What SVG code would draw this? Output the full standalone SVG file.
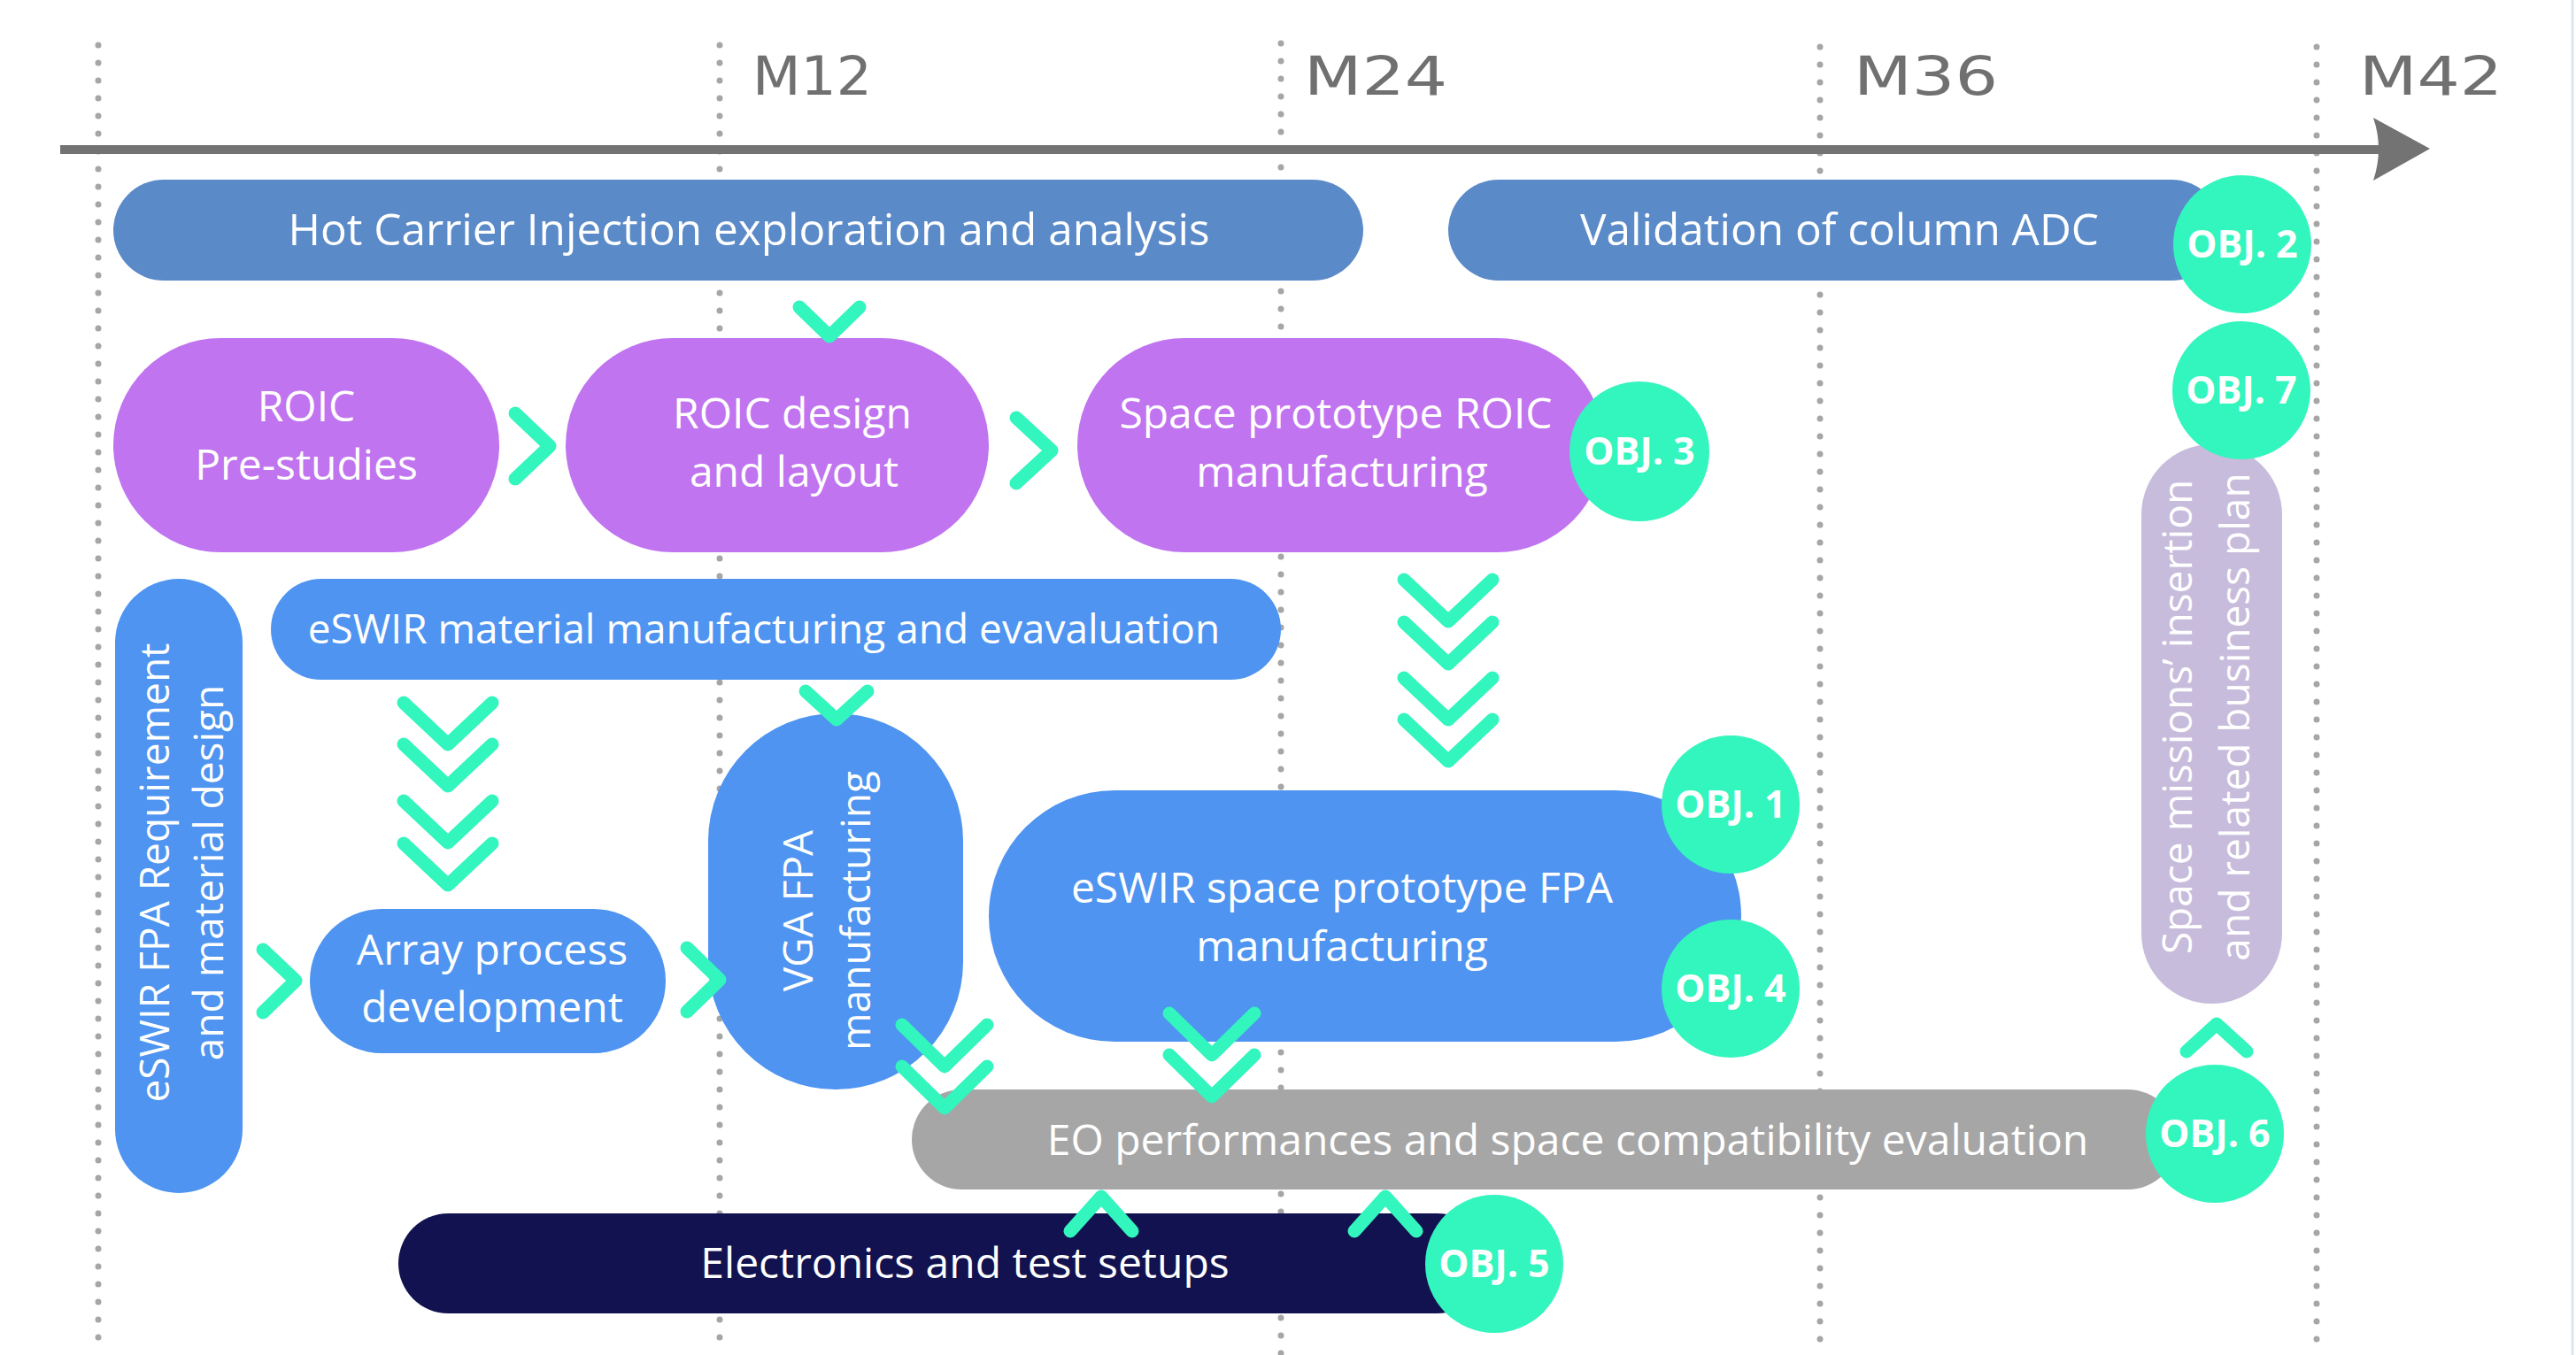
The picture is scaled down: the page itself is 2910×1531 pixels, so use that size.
<svg xmlns="http://www.w3.org/2000/svg" width="2910" height="1531" viewBox="0 0 2910 1531">
  <style>
    .grid { stroke: #A6A6A6; stroke-width: 7; stroke-linecap: round; stroke-dasharray: 0 20; fill: none; }
    .axis { stroke: #737373; stroke-width: 10; fill: none; }
    .mlabel { font-family: "DejaVu Sans", sans-serif; font-size: 60px; fill: #707070; }
    .lbl { font-family: "Open Sans", "Liberation Sans", sans-serif; font-size: 48px; fill: #FFFFFF; text-anchor: middle; }
    .wide { font-size: 49.5px; }
    .narrow { font-size: 46px; }
    .vlbl { font-family: "Open Sans", "Liberation Sans", sans-serif; font-size: 46px; fill: #FFFFFF; text-anchor: middle; }
    .obj circle { fill: #33F5BE; }
    .obj text { font-family: "Open Sans", "Liberation Sans", sans-serif; font-size: 43px; font-weight: 700; fill: #FFFFFF; text-anchor: middle; }
    .chev { stroke: #33F5BE; stroke-width: 15; stroke-linecap: round; stroke-linejoin: round; fill: none; }
    .steel { fill: #5B8AC8; }
    .purple { fill: #C074F0; }
    .blue { fill: #4E94F0; }
    .grey { fill: #A6A6A6; }
    .navy { fill: #121250; }
    .lav { fill: #C8BCDC; }
  </style>

  <rect width="2910" height="1531" fill="#FFFFFF"/>
  <line x1="2906" y1="0" x2="2906" y2="1531" stroke="#DCE6EE" stroke-width="3"/>

  <!-- month grid -->
  <g id="grid">
    <line class="grid" x1="111" y1="51" x2="111" y2="1531"/>
    <line class="grid" x1="813" y1="51" x2="813" y2="1531"/>
    <line class="grid" x1="1447" y1="49" x2="1447" y2="1531"/>
    <line class="grid" x1="2056" y1="53" x2="2056" y2="1531"/>
    <line class="grid" x1="2617" y1="53" x2="2617" y2="1531"/>
  </g>

  <!-- time axis -->
  <g id="timeline">
    <line class="axis" x1="68" y1="169" x2="2688" y2="169"/>
    <path d="M2681,133 L2745,168 L2681,204 Q2693,168 2681,133 Z" fill="#737373"/>
    <text class="mlabel" x="850" y="107" textLength="135" lengthAdjust="spacingAndGlyphs">M12</text>
    <text class="mlabel" x="1473" y="107" textLength="162" lengthAdjust="spacingAndGlyphs">M24</text>
    <text class="mlabel" x="2094" y="107" textLength="163" lengthAdjust="spacingAndGlyphs">M36</text>
    <text class="mlabel" x="2665" y="107" textLength="162" lengthAdjust="spacingAndGlyphs">M42</text>
  </g>

  <!-- work packages -->
  <g id="hot-carrier">
    <rect class="steel" x="128" y="203" width="1412" height="114" rx="57"/>
    <text class="lbl wide" x="846" y="277">Hot Carrier Injection exploration and analysis</text>
  </g>
  <g id="column-adc">
    <rect class="steel" x="1636" y="203" width="874" height="114" rx="57"/>
    <text class="lbl wide" x="2078" y="277">Validation of column ADC</text>
  </g>
  <g id="roic-prestudies">
    <rect class="purple" x="128" y="382" width="436" height="242" rx="121"/>
    <text class="lbl" x="346" y="476">ROIC</text>
    <text class="lbl" x="346" y="542">Pre-studies</text>
  </g>
  <g id="roic-design">
    <rect class="purple" x="639" y="382" width="478" height="242" rx="121"/>
    <text class="lbl" x="895" y="484">ROIC design</text>
    <text class="lbl" x="897" y="550">and layout</text>
  </g>
  <g id="roic-prototype">
    <rect class="purple" x="1217" y="382" width="595" height="242" rx="121"/>
    <text class="lbl" x="1509" y="484">Space prototype ROIC</text>
    <text class="lbl" x="1516" y="550">manufacturing</text>
  </g>
  <g id="eswir-material">
    <rect class="blue" x="306" y="654" width="1141" height="114" rx="57"/>
    <text class="lbl narrow" x="863" y="727">eSWIR material manufacturing and evavaluation</text>
  </g>
  <g id="eswir-requirement">
    <rect class="blue" x="130" y="654" width="144" height="694" rx="72"/>
    <text class="vlbl" transform="translate(191,986) rotate(-90)">eSWIR FPA Requirement</text>
    <text class="vlbl" transform="translate(252,986) rotate(-90)">and material design</text>
  </g>
  <g id="array-process">
    <rect class="blue" x="350" y="1027" width="402" height="163" rx="81.5"/>
    <text class="lbl" x="556" y="1090">Array process</text>
    <text class="lbl" x="556" y="1155">development</text>
  </g>
  <g id="vga-fpa">
    <rect class="blue" x="800" y="806" width="288" height="425" rx="144"/>
    <text class="vlbl" transform="translate(918,1029) rotate(-90)">VGA FPA</text>
    <text class="vlbl" transform="translate(983,1029) rotate(-90)">manufacturing</text>
  </g>
  <g id="eswir-prototype">
    <rect class="blue" x="1117" y="893" width="850" height="284" rx="142"/>
    <text class="lbl" x="1516" y="1020">eSWIR space prototype FPA</text>
    <text class="lbl" x="1516" y="1086">manufacturing</text>
  </g>
  <g id="eo-evaluation">
    <rect class="grey" x="1030" y="1231" width="1430" height="113" rx="56.5"/>
    <text class="lbl" x="1771" y="1305">EO performances and space compatibility evaluation</text>
  </g>
  <g id="electronics">
    <rect class="navy" x="450" y="1371" width="1230" height="113" rx="56.5"/>
    <text class="lbl" x="1090" y="1444">Electronics and test setups</text>
  </g>
  <g id="space-missions">
    <rect class="lav" x="2419" y="502" width="159" height="632" rx="79.5"/>
    <text class="vlbl" transform="translate(2476,810) rotate(-90)">Space missions’ insertion</text>
    <text class="vlbl" transform="translate(2541,810) rotate(-90)">and related business plan</text>
  </g>

  <!-- chevron links between packages -->
  <g id="connectors">
    <polyline class="chev" points="903,347 937,380 971,347"/>
    <polyline class="chev" points="582,467 621,504 582,541"/>
    <polyline class="chev" points="1148,472 1188,509 1148,546"/>
    <!-- prototype ROIC to prototype FPA -->
    <polyline class="chev" points="1586,655 1636,702 1686,655"/>
    <polyline class="chev" points="1586,703 1636,750 1686,703"/>
    <polyline class="chev" points="1586,766 1636,813 1686,766"/>
    <polyline class="chev" points="1586,813 1636,860 1686,813"/>
    <!-- material to array process -->
    <polyline class="chev" points="456,794 506,841 556,794"/>
    <polyline class="chev" points="456,841 506,888 556,841"/>
    <polyline class="chev" points="456,905 506,952 556,905"/>
    <polyline class="chev" points="456,953 506,1000 556,953"/>
    <polyline class="chev" points="297,1073 334,1108 297,1144"/>
    <polyline class="chev" points="776,1071 813,1107 776,1143"/>
    <polyline class="chev" points="910,781 945,813 980,781"/>
    <!-- into EO evaluation -->
    <polyline class="chev" points="1019,1158 1067,1205 1115,1158"/>
    <polyline class="chev" points="1019,1205 1067,1252 1115,1205"/>
    <polyline class="chev" points="1321,1145 1369,1192 1417,1145"/>
    <polyline class="chev" points="1321,1192 1369,1239 1417,1192"/>
    <polyline class="chev" points="1209,1391 1244,1352 1279,1391"/>
    <polyline class="chev" points="1530,1391 1565,1352 1600,1391"/>
    <polyline class="chev" points="2470,1188 2504,1157 2538,1188"/>
  </g>

  <!-- objectives -->
  <g id="obj-2" class="obj"><circle cx="2533" cy="276" r="78"/><text x="2533" y="291">OBJ. 2</text></g>
  <g id="obj-7" class="obj"><circle cx="2532" cy="441" r="78"/><text x="2532" y="456">OBJ. 7</text></g>
  <g id="obj-3" class="obj"><circle cx="1852" cy="510" r="79"/><text x="1852" y="525">OBJ. 3</text></g>
  <g id="obj-1" class="obj"><circle cx="1955" cy="909" r="78"/><text x="1955" y="924">OBJ. 1</text></g>
  <g id="obj-4" class="obj"><circle cx="1955" cy="1117" r="78"/><text x="1955" y="1132">OBJ. 4</text></g>
  <g id="obj-6" class="obj"><circle cx="2502" cy="1281" r="78"/><text x="2502" y="1296">OBJ. 6</text></g>
  <g id="obj-5" class="obj"><circle cx="1688" cy="1428" r="78"/><text x="1688" y="1443">OBJ. 5</text></g>
</svg>
